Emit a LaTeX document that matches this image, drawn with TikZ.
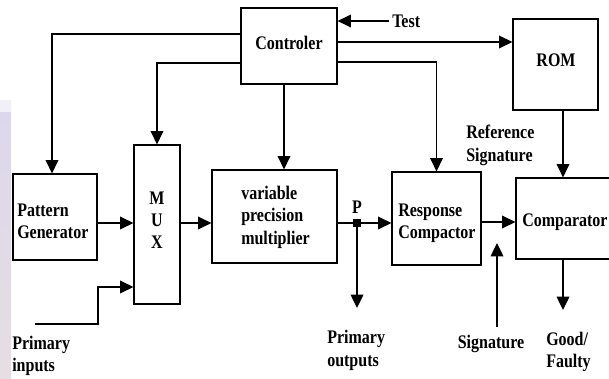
\documentclass[tikz,border=0pt]{standalone}
\usepackage{fontspec}
\usepackage{graphicx}
\setmainfont{Liberation Serif}
\usetikzlibrary{arrows.meta,calc}

\definecolor{bandtop}{RGB}{220,215,236}
\definecolor{bandbot}{RGB}{230,222,226}

% bold text, slightly stretched vertically, one or more lines
\newcommand{\blocktext}[2][l]{\scalebox{1}[1.2]{\begin{tabular}{@{}#1@{}}#2\end{tabular}}}

\begin{document}
\begin{tikzpicture}[x=0.75pt,y=-0.75pt,
  every node/.style={font=\bfseries\fontsize{12}{14}\selectfont},
  blockbox/.style={draw,line width=0.9pt,inner sep=0pt},
  txt/.style={inner sep=0pt,yshift=-1.5pt},
  arr/.style={line width=1pt,-{Triangle[length=10pt,width=9.5pt]}},
  wire/.style={line width=1pt}]

\clip (0,0) rectangle (609,378);
\fill[white] (0,0) rectangle (609,378);
% tinted strip on the left edge
\shade[top color=bandtop,bottom color=bandbot] (0,104) rectangle (11,378);
\fill[bandtop!40!white] (0,100) rectangle (11,112);

% blocks
\node[blockbox,minimum width=72pt,minimum height=57pt] (ctrl) at (289,46) {};
\node[blockbox,minimum width=63.75pt,minimum height=68.25pt] (rom) at (555.5,64.5) {};
\node[blockbox,minimum width=63pt,minimum height=64.5pt] (pg) at (55,217) {};
\node[blockbox,minimum width=34.5pt,minimum height=119.25pt] (mux) at (157,224.5) {};
\node[blockbox,minimum width=93.75pt,minimum height=69.75pt] (mult) at (274.5,216.5) {};
\node[blockbox,minimum width=66.75pt,minimum height=69.75pt] (rc) at (436.5,218.5) {};
\node[blockbox,minimum width=72pt,minimum height=60.75pt] (cmp) at (564,218.5) {};

% block texts
\node[txt] (ctrltext) at (289,43) {\blocktext{Controler}};
\node[txt] (romtext) at (556,60) {\blocktext{ROM}};
\node[txt,anchor=west] (pgtext) at (17,221) {\blocktext{Pattern\\Generator}};
\node[txt] (muxtext) at (157,220) {\blocktext[c]{M\\U\\X}};
\node[txt,anchor=west] (multtext) at (241,215.5) {\blocktext{variable\\precision\\multiplier}};
\node[txt,anchor=west] (rctext) at (398,221) {\blocktext{Response\\Compactor}};
\node[txt,anchor=west] (cmptext) at (522,220) {\blocktext{Comparator}};

% free labels
\node[txt,anchor=west] (test) at (392,21) {\blocktext{Test}};
\node[txt,anchor=west] (refsig) at (466,143.5) {\blocktext{Reference\\Signature}};
\node[txt,anchor=west] (pin) at (12,354) {\blocktext{Primary\\inputs}};
\node[txt,anchor=west] (pout) at (327,348.5) {\blocktext{Primary\\outputs}};
\node[txt] (sig) at (491,342) {\blocktext{Signature}};
\node[txt,anchor=west] (good) at (546,350) {\blocktext{Good/\\Faulty}};
\node[txt] (plabel) at (357,207) {\blocktext{P}};

% junction point
\node[fill=black,draw,minimum size=5.5pt,inner sep=0pt] (p) at (357,223) {};

% connector end points
\coordinate (testend) at (389,21);
\coordinate (pinstart) at (35,324);
\coordinate (pinbend) at (98,324);
\coordinate (poutend) at (357,308);
\coordinate (sigstart) at (497,327);
\coordinate (sigtip) at (497,243);
\coordinate (goodend) at (563,310);

% controller outputs
\draw[arr] (testend) -- (testend -| ctrl.east);
\draw[arr] (ctrl.east |- 0,42) -- (rom.west |- 0,42);
\draw[arr] (ctrl.east |- 0,62) -| (rc.north);
\draw[arr] (ctrl.west |- 0,34) -| (52,0 |- pg.north);
\draw[arr] (ctrl.west |- 0,63) -| (mux.north);
\draw[arr] (284,0 |- ctrl.south) -- (284,0 |- mult.north);

% data path
\draw[arr] (pg.east |- 0,223) -- (mux.west |- 0,223);
\draw[wire] (pinstart) -- (pinbend);
\draw[arr] (pinbend) |- (mux.west |- 0,287);
\fill (pinbend) circle (1.3);
\draw[arr] (mux.east |- 0,223) -- (mult.west |- 0,223);
\draw[wire] (mult.east |- p) -- (p);
\draw[arr] (p) -- (rc.west |- p);
\draw[arr] (p) -- (poutend);
\draw[arr] (rc.east |- 0,222) -- (cmp.west |- 0,222);
\draw[arr] (563,0 |- rom.south) -- (563,0 |- cmp.north);
\draw[arr] (sigstart) -- (sigtip);
\draw[arr] (563,0 |- cmp.south) -- (goodend);

\end{tikzpicture}
\end{document}
